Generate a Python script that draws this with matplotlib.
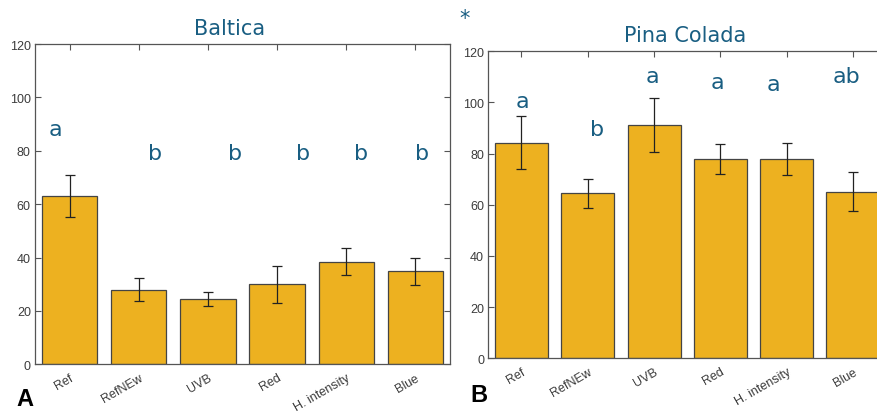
import matplotlib.pyplot as plt

groups = ["Ref", "RefNEw", "UVB", "Red", "H. intensity", "Blue"]

baltica_mean = [63.0, 28.0, 24.5, 30.0, 38.5, 34.9]
baltica_err = [7.9, 4.3, 2.6, 6.9, 5.1, 5.1]
baltica_letters = ["a", "b", "b", "b", "b", "b"]
baltica_letter_y = [88, 79, 79, 79, 79, 79]

pina_mean = [84.3, 64.5, 91.3, 78.0, 78.0, 65.1]
pina_err = [10.3, 5.7, 10.6, 5.9, 6.3, 7.6]
pina_letters = ["a", "b", "a", "a", "a", "ab"]
pina_letter_y = [100.7, 89.6, 110.2, 108.1, 107.2, 110.2]

BAR = "#EDB120"
TEAL = "#195e82"

# letters sit a bit off the bar centres
baltica_shift = [-0.2, 0.23, 0.39, 0.38, 0.21, 0.1]
pina_shift = [0.02, 0.14, -0.02, -0.05, -0.2, -0.09]


def draw(ax, means, errs, letters, letter_y, shift, title, title_x, fs):
    x = range(len(groups))
    ax.bar(x, means, width=0.8, color=BAR, edgecolor="#444444", linewidth=0.9, zorder=2)
    ax.errorbar(x, means, yerr=errs, fmt="none", ecolor="#222222", elinewidth=0.9,
                capsize=3.5, capthick=0.9, zorder=3)
    for i, (lab, ly) in enumerate(zip(letters, letter_y)):
        ax.text(i + shift[i], ly, lab, color=TEAL, fontsize=16, ha="center", va="center",
                family="DejaVu Sans")
    ax.set_xlim(-0.5, 5.5)
    ax.set_ylim(0, 120)
    ax.set_yticks(range(0, 121, 20))
    ax.set_xticks(list(x))
    ax.set_xticklabels(groups, rotation=30, ha="right", rotation_mode="anchor",
                       family="Liberation Sans", fontsize=fs, color="#3c3c3c")
    for lbl in ax.get_yticklabels():
        lbl.set_family("Liberation Sans")
        lbl.set_fontsize(fs)
        lbl.set_color("#3c3c3c")
    ax.tick_params(direction="in", top=True, right=True, length=4, width=0.8,
                   color="#555555", pad=3)
    ax.tick_params(axis="x", pad=5)
    for s in ax.spines.values():
        s.set_color("#555555")
        s.set_linewidth(0.9)
    ax.text(title_x, 1.02, title, transform=ax.transAxes, color=TEAL, fontsize=15,
            ha="center", va="bottom", family="DejaVu Sans")


fig = plt.figure(figsize=(8.77, 4.14), dpi=100)
ax1 = fig.add_axes([0.0399, 0.1176, 0.4732, 0.7737])
ax2 = fig.add_axes([0.5568, 0.1321, 0.4535, 0.7415])

draw(ax1, baltica_mean, baltica_err, baltica_letters, baltica_letter_y, baltica_shift,
     "Baltica", 0.47, 9)
draw(ax2, pina_mean, pina_err, pina_letters, pina_letter_y, pina_shift,
     "Pina Colada", 0.495, 9)

fig.text(25 / 877, 1 - 400 / 414, "A", fontsize=17, fontweight="bold", ha="center",
         va="center", family="Liberation Sans")
fig.text(479 / 877, 1 - 396 / 414, "B", fontsize=17, fontweight="bold", ha="center",
         va="center", family="Liberation Sans")
fig.text(465 / 877, 1 - 19 / 414, "*", fontsize=15, color=TEAL, ha="center",
         va="center", family="DejaVu Sans")

fig.savefig("out.png", dpi=100)
